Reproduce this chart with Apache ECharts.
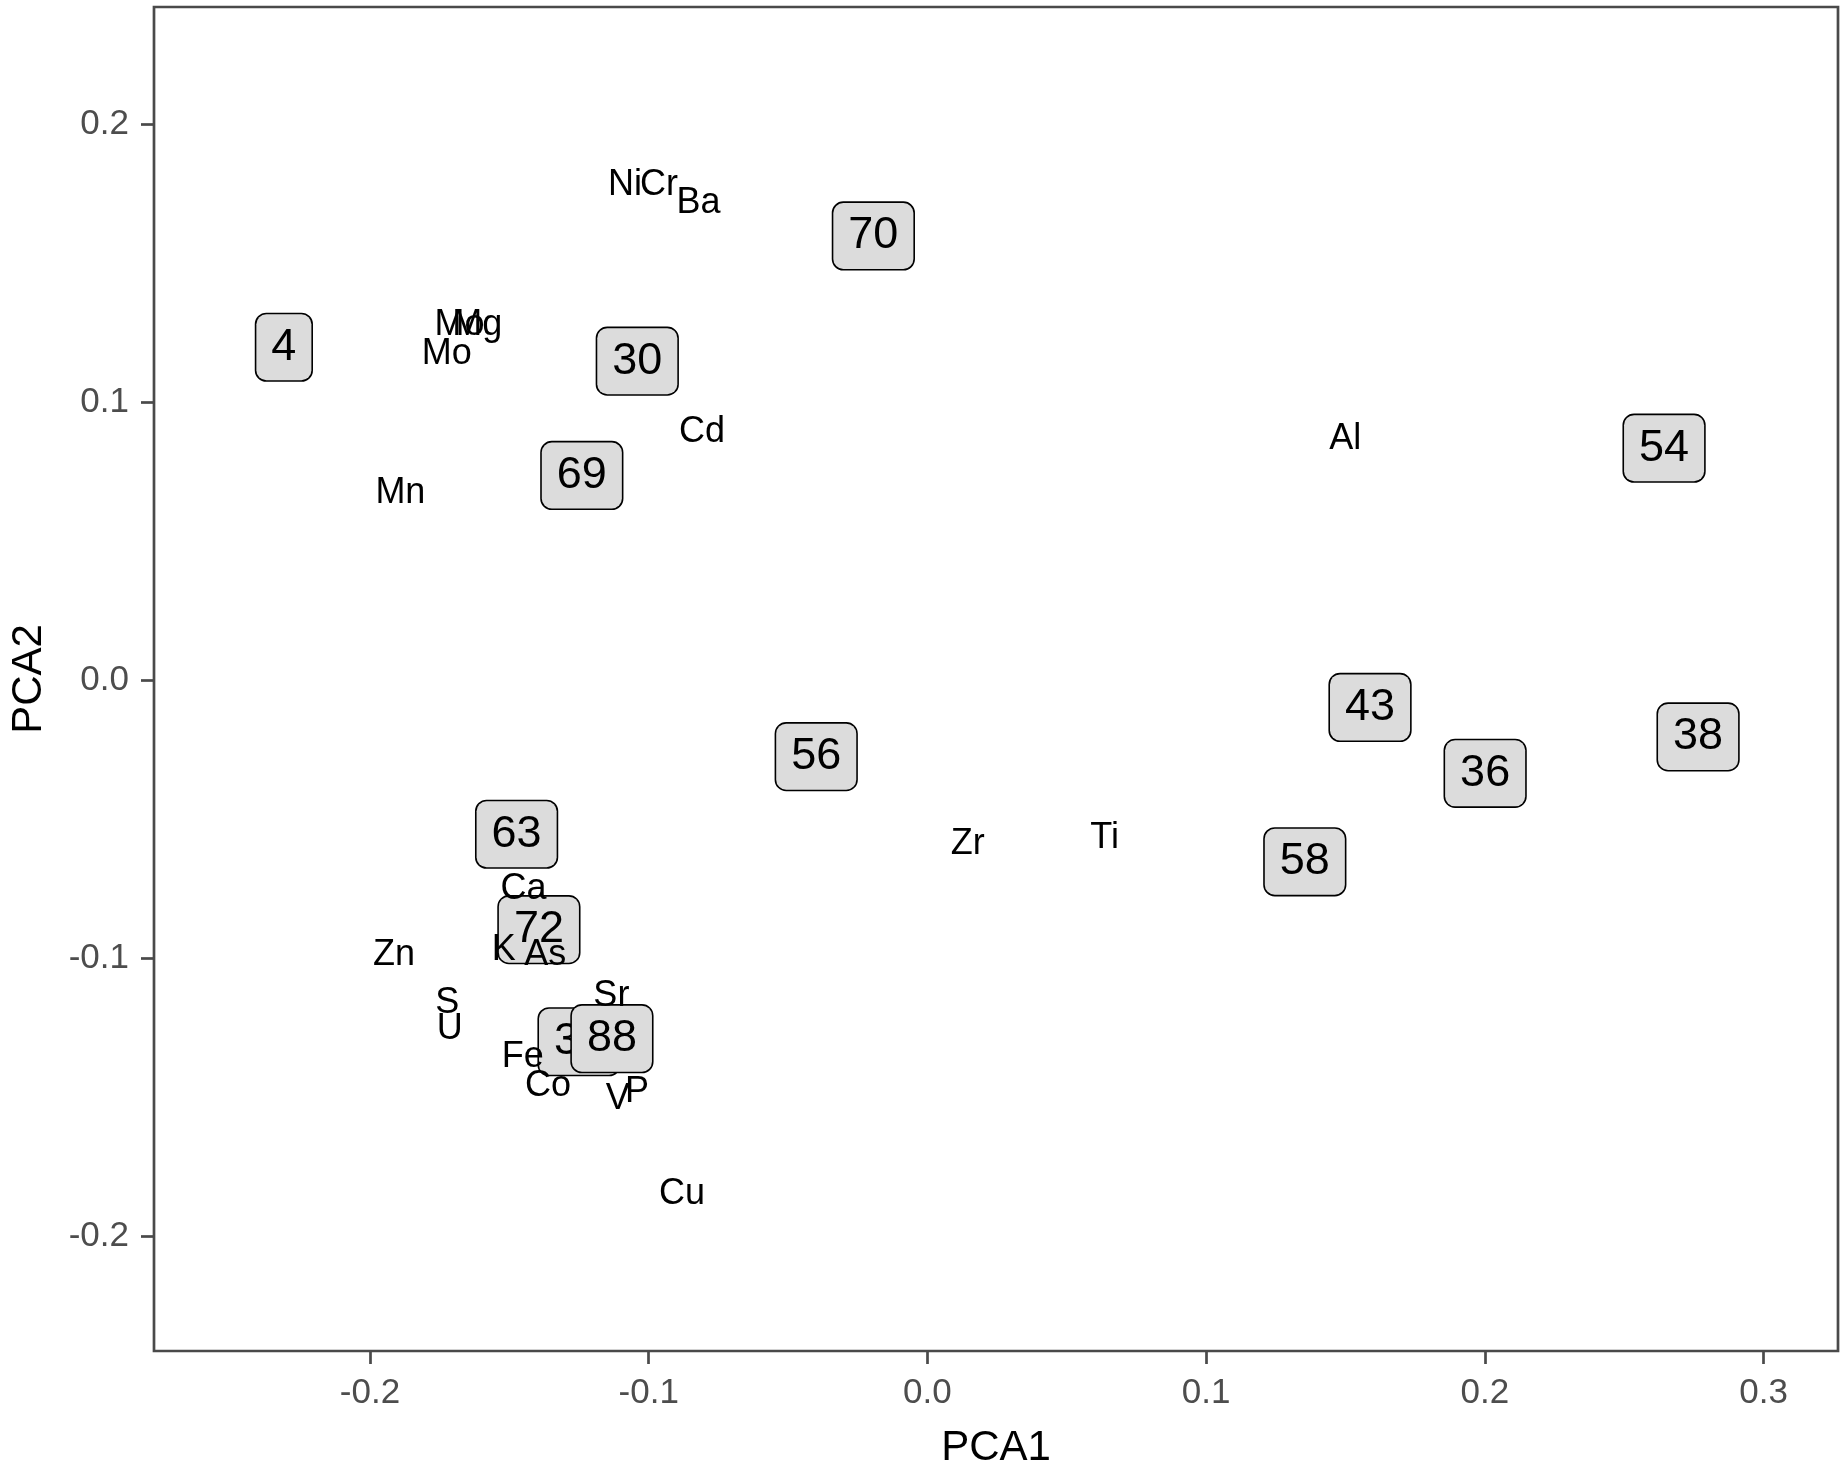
<!DOCTYPE html>
<html>
<head>
<meta charset="utf-8">
<script src="https://cdn.jsdelivr.net/npm/echarts@6/dist/echarts.min.js"></script>
<style>
html,body{margin:0;padding:0;background:#fff;}
#chart{width:1846px;height:1474px;}
</style>
</head>
<body>
<div id="chart"></div>
<script>
// Sample scores (boxed labels)
const sampleIds = ['70','4','30','69','54','43','36','38','58','56','63','72','34','88'];
const samplePC1 = [-0.0194,-0.2309,-0.1041,-0.1240,0.2643,0.1588,0.2001,0.2765,0.1354,-0.0399,-0.1474,-0.1394,-0.1250,-0.1132];
const samplePC2 = [0.1605,0.1205,0.1155,0.0744,0.0842,-0.0090,-0.0327,-0.0196,-0.0645,-0.0267,-0.0546,-0.0889,-0.1292,-0.1281];

// Element loadings (plain text labels)
const elementNames = ['Ni','Cr','Ba','Mo','Mg','Mo','Cd','Mn','Al','Zr','Ti','Ca','Zn','K','As','S','U','Sr','Fe','Co','V','P','Cu'];
const elementPC1 = [-0.1085,-0.0963,-0.0821,-0.1679,-0.1615,-0.1725,-0.0809,-0.1891,0.1499,0.0145,0.0636,-0.1449,-0.1914,-0.1520,-0.1371,-0.1723,-0.1714,-0.1134,-0.1452,-0.1361,-0.1111,-0.1042,-0.0881];
const elementPC2 = [0.1788,0.1788,0.1722,0.1286,0.1286,0.1180,0.0900,0.0680,0.0876,-0.0580,-0.0561,-0.0744,-0.0979,-0.0962,-0.0982,-0.1153,-0.1247,-0.1128,-0.1347,-0.1453,-0.1497,-0.1472,-0.1840];

// Axis ticks
const xTicks = [-0.2,-0.1,0,0.1,0.2,0.3];
const yTicks = [-0.2,-0.1,0,0.1,0.2];

const FONT = '"Liberation Sans", Arial, sans-serif';
const lineCol = '#4a4a4a';

const sampleData = sampleIds.map((id,i)=>({value:[samplePC1[i],samplePC2[i]], name:id}));
const elementData = elementNames.map((n,i)=>({value:[elementPC1[i],elementPC2[i]], name:n}));

const axisCommon = {
  type:'value',
  nameLocation:'middle',
  nameTextStyle:{fontFamily:FONT,fontSize:42,color:'#000'},
  axisLine:{show:false,onZero:false},
  splitLine:{show:false},
  axisTick:{show:true,length:13,lineStyle:{color:lineCol,width:2.7}},
  axisLabel:{fontFamily:FONT,fontSize:35,color:'#4d4d4d',formatter:v=>Number(v).toFixed(1)}
};

const chart = echarts.init(document.getElementById('chart'), null, {renderer:'canvas'});
chart.setOption({
  backgroundColor:'#ffffff',
  animation:false,
  grid:{left:145,right:8,top:7,bottom:114,show:true,borderColor:lineCol,borderWidth:2.7,backgroundColor:'transparent'},
  xAxis:Object.assign({},axisCommon,{
    name:'PCA1', nameGap:76, min:-0.2775, max:0.3267,
    axisTick:Object.assign({},axisCommon.axisTick,{customValues:xTicks}),
    axisLabel:Object.assign({},axisCommon.axisLabel,{margin:25,customValues:xTicks})
  }),
  yAxis:Object.assign({},axisCommon,{
    name:'PCA2', nameGap:104, min:-0.2411, max:0.2421,
    axisTick:Object.assign({},axisCommon.axisTick,{customValues:yTicks}),
    axisLabel:Object.assign({},axisCommon.axisLabel,{margin:25,customValues:yTicks})
  }),
  series:[
    {
      type:'scatter', z:2, data:sampleData, symbolSize:1,
      itemStyle:{color:'rgba(0,0,0,0)',opacity:1},
      label:{show:true, position:'inside', formatter:p=>p.name, offset:[0,2],
        fontFamily:FONT, fontSize:45, lineHeight:45, color:'#000',
        backgroundColor:'#dcdcdc', borderColor:'#000', borderWidth:1.6, borderRadius:10,
        padding:[12.5,15,8.5,15]},
      emphasis:{disabled:true}, silent:true
    },
    {
      type:'scatter', z:3, data:elementData, symbolSize:1,
      itemStyle:{color:'rgba(0,0,0,0)',opacity:1},
      label:{show:true, position:'inside', formatter:p=>p.name, offset:[0,2],
        fontFamily:FONT, fontSize:36, color:'#000'},
      emphasis:{disabled:true}, silent:true
    }
  ]
});
</script>
</body>
</html>
